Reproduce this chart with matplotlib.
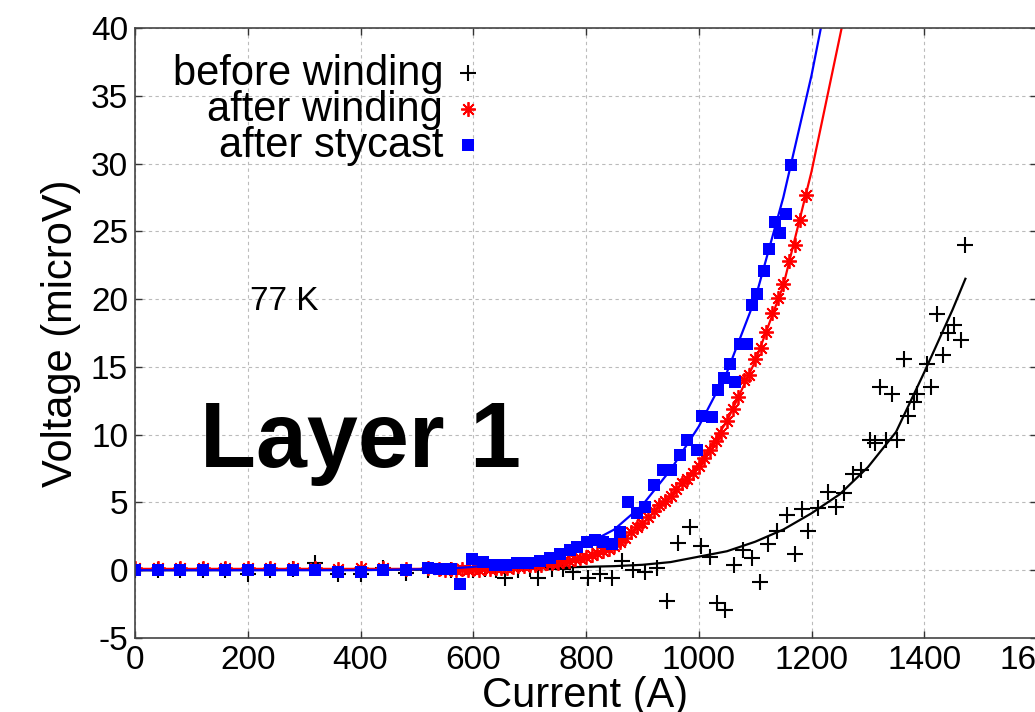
import matplotlib
matplotlib.use('Agg')
import matplotlib.pyplot as plt

plt.rcParams['font.family'] = ['Liberation Sans', 'DejaVu Sans']
plt.rcParams['axes.unicode_minus'] = False

# Measured V-I points at 77 K, layer 1
before_I = [0, 40, 80, 120, 160, 200, 240, 280, 320, 360, 400, 440, 480, 520, 560,
            600, 620, 640, 657, 680, 700, 715, 740, 760, 777, 804, 825, 846, 864,
            884, 905, 926, 944, 964, 985, 1004, 1020, 1033, 1047, 1063, 1079, 1095,
            1109, 1123, 1139, 1157, 1171, 1184, 1194, 1212, 1230, 1244, 1258, 1274,
            1288, 1304, 1313, 1322, 1332, 1343, 1352, 1364, 1372, 1381, 1387, 1404,
            1412, 1423, 1434, 1443, 1452, 1466, 1473]
before_V = [0, 0.05, 0, 0.05, 0, -0.3, 0, 0.1, 0.5, -0.3, -0.3, 0.2, -0.2, 0.05, 0.05,
            0.05, 0.1, 0.0, -0.6, 0.05, 0.1, -0.6, 0.1, 0.1, -0.1, -0.6, -0.3, -0.6, 0.7,
            0.0, -0.1, 0.15, -2.3, 2.0, 3.2, 1.8, 1.0, -2.4, -2.9, 0.4, 1.5, 0.9,
            -0.9, 1.9, 2.9, 4.1, 1.2, 4.5, 2.9, 4.6, 5.8, 4.7, 5.7, 7.1,
            7.4, 9.6, 9.4, 13.5, 9.6, 13.0, 9.6, 15.6, 11.4, 12.4, 13.0, 15.2,
            13.5, 18.9, 15.9, 17.5, 18.1, 17.0, 24.0]

winding_I = [0, 40, 80, 120, 160, 200, 240, 280, 320, 360, 400, 440, 480, 520,
             540, 550, 560, 570, 580, 590, 600, 610, 620, 630, 640, 650, 660, 670,
             680, 690, 700, 710, 720, 730, 740, 750, 760, 770, 780, 790, 800, 810,
             820, 830, 840, 850, 860, 870, 880, 890, 900, 910, 920, 930, 940, 950,
             960, 970, 980, 990, 1000, 1010, 1020, 1030, 1040, 1050, 1060, 1070,
             1080, 1090, 1100, 1110, 1120, 1130, 1140, 1150, 1160, 1170, 1180, 1190]
winding_V = [0.15, 0.15, 0.15, 0.2, 0.15, 0.15, 0.2, 0.15, 0.15, 0.1, 0.15, 0.15, 0.1, 0.15,
             0.1, 0.05, 0.1, 0.05, 0.1, 0.0, 0.1, 0.05, 0.15, 0.1, 0.2, 0.15, 0.2, 0.25,
             0.3, 0.3, 0.35, 0.4, 0.4, 0.5, 0.5, 0.55, 0.65, 0.7, 0.8, 0.9, 1.0, 1.1,
             1.25, 1.4, 1.6, 1.8, 2.1, 2.4, 2.8, 3.2, 3.5, 3.9, 4.4, 4.8, 5.1, 5.5,
             6.0, 6.4, 6.7, 7.2, 7.7, 8.3, 8.9, 9.5, 10.1, 11.0, 11.9, 12.8,
             14.0, 14.4, 15.6, 16.4, 17.6, 19.0, 20.1, 21.1, 22.8, 24.0, 25.8, 27.7]

stycast_I = [0, 40, 80, 120, 160, 200, 240, 280, 320, 360, 400, 440, 480, 520, 540, 560,
             577, 598, 618, 638, 658, 678, 698, 718, 737, 754, 772, 784, 802, 816, 831,
             846, 861, 875, 891, 905, 921, 937, 951, 967, 980, 997, 1006, 1024, 1035,
             1044, 1056, 1065, 1074, 1086, 1095, 1104, 1115, 1125, 1136, 1145, 1155, 1164]
stycast_V = [0, 0, 0, 0.05, 0, 0.05, 0, 0, 0.05, -0.15, -0.1, 0, 0, 0.15, 0.1, 0.1,
             -1.0, 0.8, 0.6, 0.4, 0.4, 0.5, 0.55, 0.7, 0.9, 1.2, 1.5, 1.7, 2.1, 2.2, 2.1,
             1.9, 2.8, 5.0, 4.2, 4.7, 6.3, 7.4, 7.4, 8.5, 9.6, 8.9, 11.4, 11.3, 13.3,
             14.2, 15.2, 13.9, 16.7, 16.7, 19.6, 20.4, 22.1, 23.7, 25.7, 24.9, 26.3, 29.9]

# Fitted curves
before_fit_I = [0, 600, 700, 750, 800, 850, 900, 950, 1000, 1050, 1100, 1150, 1200,
                1250, 1300, 1350, 1400, 1450, 1473]
before_fit_V = [0, 0.05, 0.1, 0.2, 0.25, 0.3, 0.4, 0.6, 1.0, 1.4, 2.1, 3.0, 4.2,
                5.6, 7.6, 10.2, 14.6, 19.2, 21.5]
winding_fit_I = [0, 500, 600, 650, 700, 750, 800, 850, 900, 950, 1000, 1050, 1100,
                 1150, 1200, 1256]
winding_fit_V = [0.1, 0.1, 0.15, 0.25, 0.35, 0.55, 0.95, 1.8, 3.4, 5.5, 7.8, 11.0, 15.4,
                 21.0, 29.4, 40.5]
stycast_fit_I = [0, 400, 550, 600, 650, 700, 750, 800, 850, 900, 950, 1000, 1050,
                 1100, 1150, 1200, 1219]
stycast_fit_V = [0, 0, 0.1, 0.25, 0.45, 0.75, 1.2, 1.9, 3.0, 4.8, 7.4, 10.6, 14.6,
                 20.0, 27.5, 36.5, 40.5]

x_ticks = list(range(0, 1601, 200))
y_ticks = list(range(-5, 41, 5))

fig = plt.figure(figsize=(10.35, 7.12), dpi=100)
ax = fig.add_axes([135 / 1035, 74 / 712, 902 / 1035, 610 / 712])

ax.plot(before_I, before_V, linestyle='none', marker='+', color='black',
        markersize=11, markeredgewidth=1.5)
ax.plot(before_fit_I, before_fit_V, color='black', linewidth=1.6)
ax.plot(winding_I, winding_V, linestyle='none', marker=(8, 2, 0), color='red',
        markersize=10.5, markeredgewidth=1.3)
ax.plot(winding_fit_I, winding_fit_V, color='red', linewidth=1.6)
ax.plot(stycast_I, stycast_V, linestyle='none', marker='s', color='blue',
        markersize=8.5, markeredgewidth=0)
ax.plot(stycast_fit_I, stycast_fit_V, color='blue', linewidth=1.6)

ax.set_xlim(0, 1600)
ax.set_ylim(-5, 40)
ax.set_xticks(x_ticks)
ax.set_yticks(y_ticks)
ax.tick_params(direction='in', length=5, width=1, labelsize=24, color='#333333',
               top=True, right=True)
ax.tick_params(axis='x', pad=5)
ax.tick_params(axis='y', pad=5)
ax.grid(True, color='#bbbbbb', linestyle=(0, (3, 3)), linewidth=0.8)
for spine in ax.spines.values():
    spine.set_color('#444444')
    spine.set_linewidth(1.2)

ax.set_xlabel('Current (A)', fontsize=30)
ax.set_ylabel('Voltage (microV)', fontsize=30)
ax.xaxis.set_label_coords(0.499, -0.062)
ax.yaxis.set_label_coords(-0.06, 0.5)

# Key, right-aligned labels followed by the marker
keys = [('before winding', dict(marker='+', color='black', markersize=11, markeredgewidth=1.5), 0.907),
        ('after winding', dict(marker=(8, 2, 0), color='red', markersize=10.5, markeredgewidth=1.3), 0.848),
        ('after stycast', dict(marker='s', color='blue', markersize=8.5, markeredgewidth=0), 0.788)]
for label, style, ky in keys:
    ax.text(0.3415, ky, label, transform=ax.transAxes, fontsize=30,
            ha='right', va='baseline')
    ax.plot([0.369], [ky + 0.02], transform=ax.transAxes, linestyle='none',
            clip_on=False, **style)

ax.text(204, 19.2, '77 K', fontsize=24, ha='left', va='baseline')
ax.text(115, 7.6, 'Layer 1', fontsize=66, fontweight='bold', ha='left', va='baseline')

fig.savefig('out.png', dpi=100)
